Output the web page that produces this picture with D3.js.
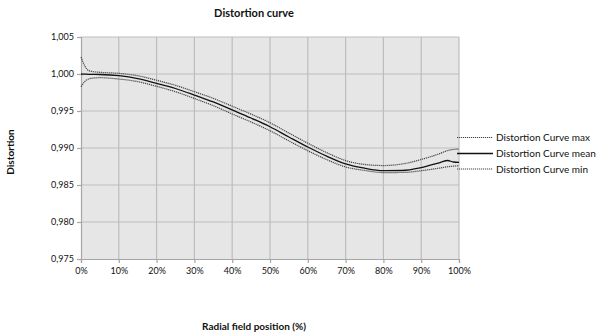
<!DOCTYPE html>
<html><head><meta charset="utf-8">
<script src="https://cdn.jsdelivr.net/npm/d3@7"></script>
<style>body{margin:0;background:#fff}svg{display:block}text{font-family:Lato,"Open Sans",sans-serif;fill:#111}</style>
</head><body><svg id="c" width="600" height="333"></svg>
<script>
const positions = [0,1,2,3,5,10,15,20,25,30,35,40,45,50,55,60,65,70,75,80,85,90,95,97,98.5,100];
const meanValues = [1.00000,0.99998,0.99996,0.99995,0.99993,0.99977,0.99939,0.99874,0.99804,0.99716,0.99622,0.99514,0.99405,0.99287,0.99149,0.99014,0.98890,0.98785,0.98727,0.98695,0.98696,0.98734,0.98804,0.98831,0.98811,0.98807];
const maxValues  = [1.00230,1.00108,1.00047,1.00034,1.00023,1.00009,0.99977,0.99915,0.99847,0.99761,0.99671,0.99565,0.99458,0.99341,0.99202,0.99065,0.98937,0.98830,0.98778,0.98763,0.98784,0.98845,0.98926,0.98966,0.98980,0.98986];
const minValues  = [0.99828,0.99899,0.99932,0.99943,0.99950,0.99932,0.99897,0.99833,0.99760,0.99669,0.99572,0.99460,0.99351,0.99233,0.99096,0.98963,0.98843,0.98744,0.98697,0.98668,0.98669,0.98693,0.98730,0.98747,0.98755,0.98761];
const yTicks = [0.975,0.980,0.985,0.990,0.995,1.000,1.005];
const xTicks = [0,10,20,30,40,50,60,70,80,90,100];
const seriesNames = ["Distortion Curve max","Distortion Curve mean","Distortion Curve min"];
const title = "Distortion curve", xTitle = "Radial field position (%)", yTitle = "Distortion";

const svg = d3.select("#c");
const L=81,R=459,T=37,B=259;
const x = d3.scaleLinear().domain([0,100]).range([L,R]);
const y = d3.scaleLinear().domain([0.975,1.005]).range([B,T]);
const loc = d3.formatLocale({decimal:",",thousands:".",grouping:[3],currency:["",""]});
const fy = loc.format(".3f");

svg.append("rect").attr("x",L).attr("y",T).attr("width",R-L).attr("height",B-T).attr("fill","#e6e6e6");
// grid
svg.append("g").selectAll("line").data(yTicks.slice(1)).join("line")
  .attr("x1",L).attr("x2",R).attr("y1",d=>y(d)).attr("y2",d=>y(d)).attr("stroke","#bdbdbd").attr("stroke-width",1.2);
svg.append("g").selectAll("line").data(xTicks.slice(1)).join("line")
  .attr("y1",T).attr("y2",B).attr("x1",d=>x(d)).attr("x2",d=>x(d)).attr("stroke","#bdbdbd").attr("stroke-width",1.2);

const yAxis = svg.append("g").attr("transform",`translate(${L},0)`)
  .call(d3.axisLeft(y).tickValues(yTicks).tickFormat(fy).tickSize(4).tickPadding(3));
const xAxis = svg.append("g").attr("transform",`translate(0,${B})`)
  .call(d3.axisBottom(x).tickValues(xTicks).tickFormat(d=>d+"%").tickSize(4).tickPadding(5));
[yAxis,xAxis].forEach(a=>{
  a.selectAll("path,line").attr("stroke","#a6a6a6").attr("stroke-width",1.2);
  a.selectAll("text").style("font-size","9px").style("font-family","Lato,sans-serif").attr("fill","#222");
});

const line = v => d3.line().x((d,i)=>x(positions[i])).y(d=>y(d)).curve(d3.curveMonotoneX)(v);
const styles = [
  {v:maxValues, stroke:"#444", w:1.2, dash:"1.2,0.8"},
  {v:meanValues, stroke:"#111", w:1.3, dash:null},
  {v:minValues, stroke:"#444", w:1.2, dash:"1.2,0.8"}
];
styles.forEach(s=>{
  svg.append("path").attr("d",line(s.v)).attr("fill","none").attr("stroke",s.stroke)
    .attr("stroke-width",s.w).attr("stroke-dasharray",s.dash);
});

// legend
const ly = [137.5,153.5,169];
seriesNames.forEach((n,i)=>{
  svg.append("line").attr("x1",457).attr("x2",493).attr("y1",ly[i]).attr("y2",ly[i])
    .attr("stroke",styles[i].stroke).attr("stroke-width",styles[i].w).attr("stroke-dasharray",styles[i].dash);
  svg.append("text").attr("x",496).attr("y",ly[i]).attr("dy","0.35em").style("font-size","10px").text(n);
});

svg.append("text").attr("x",254).attr("y",13).attr("dy","0.35em").attr("text-anchor","middle")
  .style("font-size","11px").style("font-weight","bold").text(title);
svg.append("text").attr("x",254).attr("y",326).attr("dy","0.35em").attr("text-anchor","middle")
  .style("font-size","10px").style("font-weight","bold").text(xTitle);
svg.append("text").attr("transform","translate(10,152) rotate(-90)").attr("dy","0.35em").attr("text-anchor","middle")
  .style("font-size","10px").style("font-weight","bold").text(yTitle);
</script></body></html>
